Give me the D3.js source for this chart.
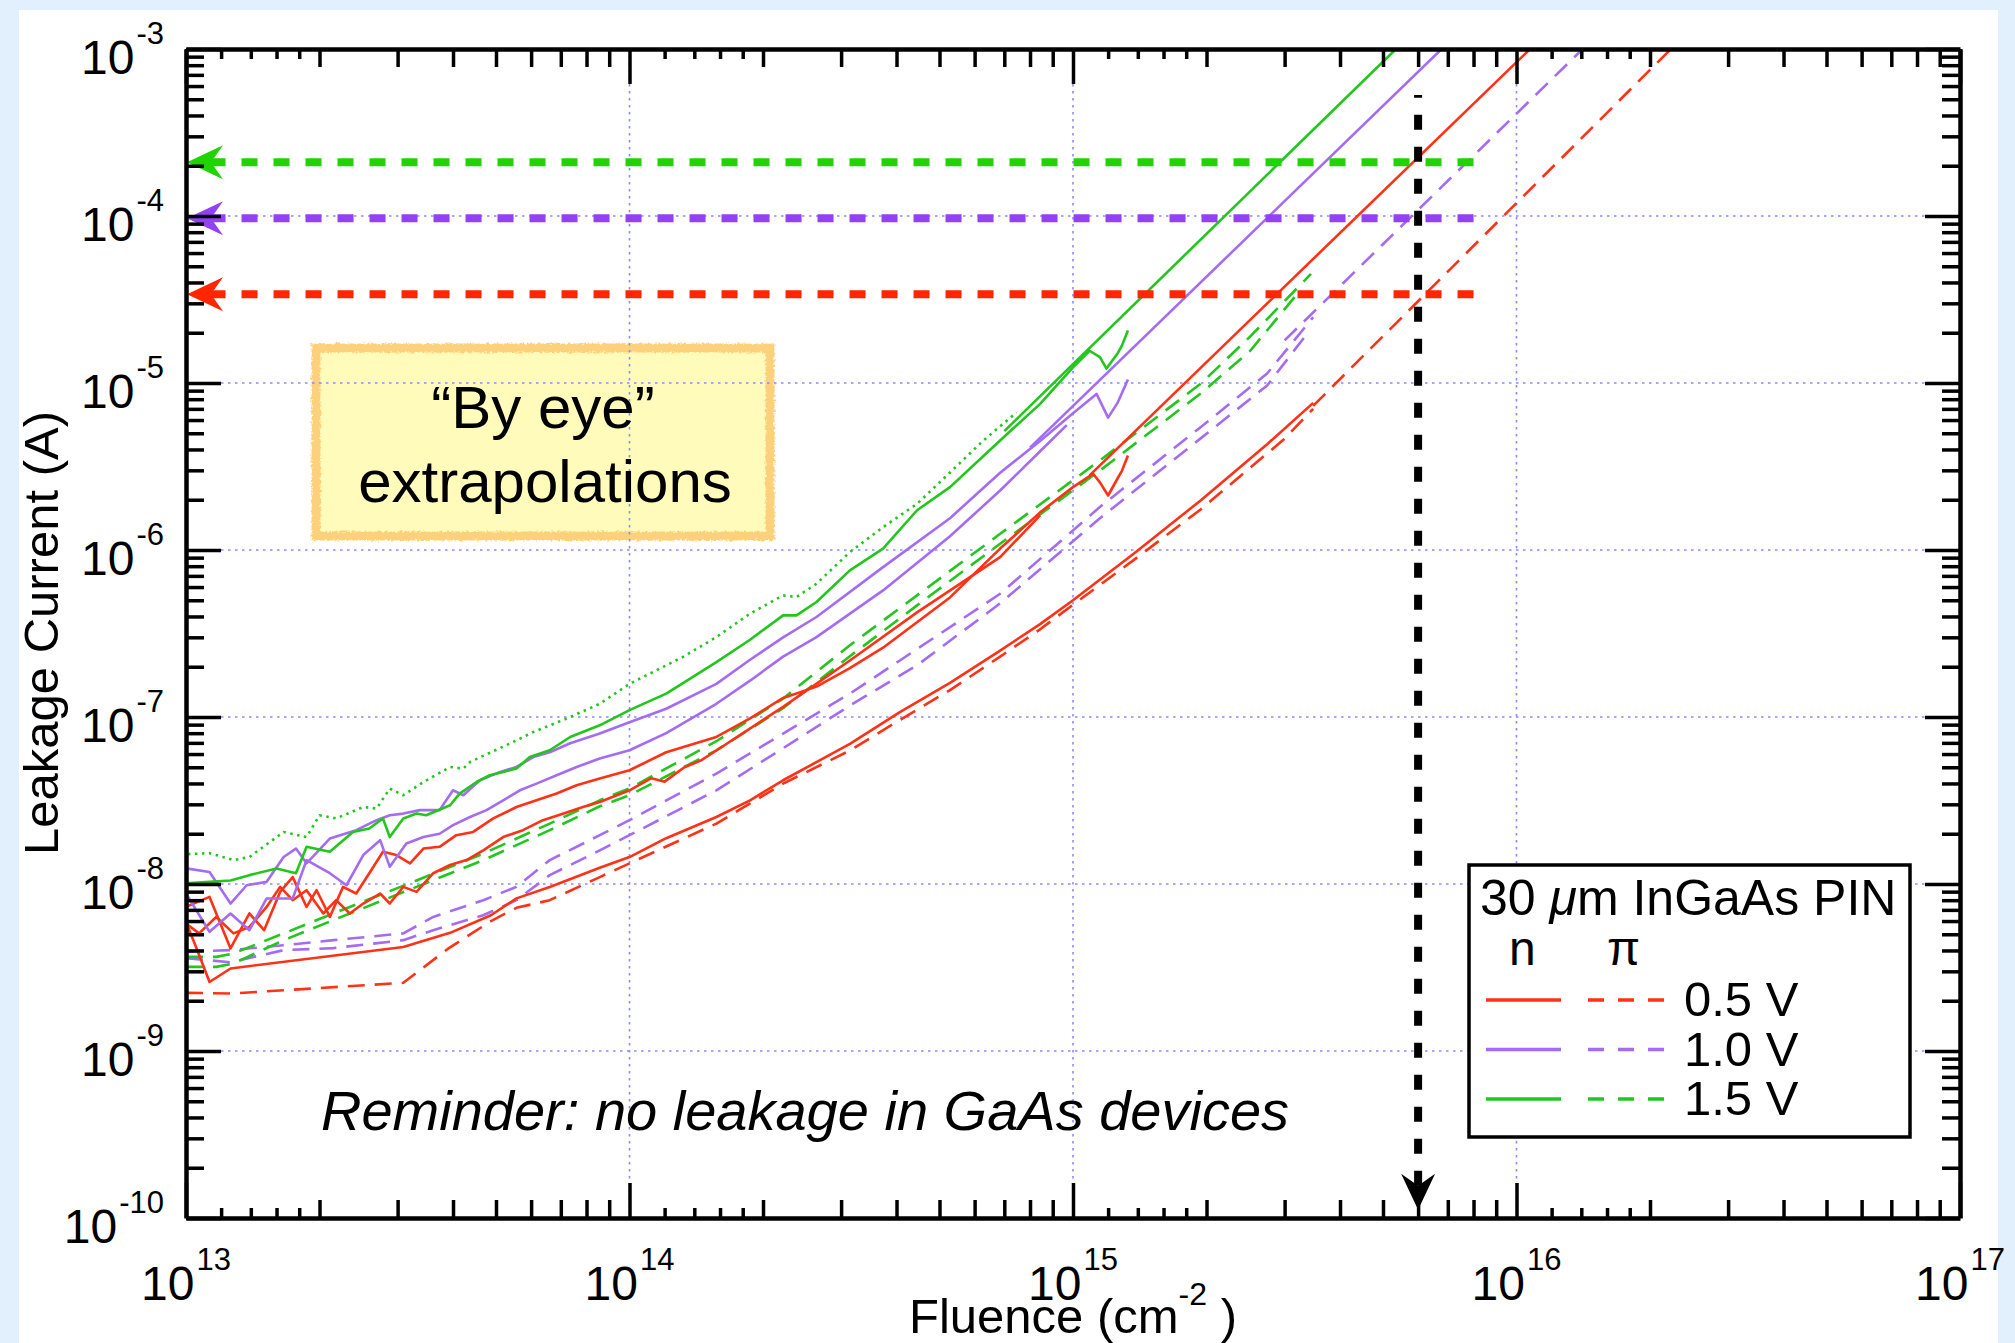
<!DOCTYPE html>
<html lang="en">
<head>
<meta charset="UTF-8">
<title>InGaAs PIN leakage current vs fluence</title>
<script src="https://d3js.org/d3.v7.min.js"></script>
<style>
  html, body { margin: 0; padding: 0; background: #e2effc; }
  svg { display: block; }
  text { font-family: "Liberation Sans", Arial, Helvetica, sans-serif; fill: #000; }
</style>
</head>
<body>
<svg id="chart" width="2015" height="1343"></svg>
<script>
// ---- values: [fluence (cm^-2), leakage current (A)] ----
const greenDotted = [[1.01e13,1.51e-8],[1.13e13,1.53e-8],[1.28e13,1.39e-8],[1.39e13,1.45e-8],[1.66e13,2.05e-8],[1.87e13,1.91e-8],[2.0e13,2.58e-8],[2.18e13,2.47e-8],[2.51e13,2.89e-8],[2.69e13,2.83e-8],[2.88e13,3.73e-8],[3.09e13,3.40e-8],[3.43e13,4.08e-8],[3.94e13,5.02e-8],[4.22e13,4.91e-8],[4.37e13,5.38e-8],[5.37e13,6.93e-8],[6.07e13,8.13e-8],[7.21e13,9.78e-8],[8.57e13,1.2e-7],[1.0e14,1.58e-7],[1.32e14,2.29e-7],[1.57e14,3.01e-7],[1.87e14,4.16e-7],[2.22e14,5.35e-7],[2.38e14,5.23e-7],[2.64e14,6.28e-7],[3.14e14,9.71e-7],[3.73e14,1.37e-6],[4.45e14,1.89e-6],[5.28e14,2.91e-6],[6.28e14,4.53e-6],[7.46e14,6.66e-6]];

const greenSolid = [[1.0e13,1.01e-8],[1.13e13,1.03e-8],[1.26e13,1.05e-8],[1.39e13,1.13e-8],[1.6e13,1.24e-8],[1.77e13,1.16e-8],[1.87e13,1.67e-8],[2.11e13,1.56e-8],[2.38e13,2.05e-8],[2.59e13,2.15e-8],[2.78e13,2.47e-8],[2.88e13,1.91e-8],[3.09e13,2.47e-8],[3.31e13,2.64e-8],[3.48e13,2.58e-8],[3.94e13,2.96e-8],[4.14e13,3.48e-8],[4.52e13,4.08e-8],[4.84e13,4.48e-8],[5.19e13,4.69e-8],[5.56e13,4.91e-8],[5.96e13,5.76e-8],[6.61e13,6.32e-8],[7.35e13,7.59e-8],[8.57e13,8.92e-8],[1.0e14,1.1e-7],[1.21e14,1.38e-7],[1.57e14,2.13e-7],[1.87e14,2.9e-7],[2.22e14,4.06e-7],[2.38e14,4.06e-7],[2.64e14,4.88e-7],[3.14e14,7.55e-7],[3.73e14,1.02e-6],[4.45e14,1.73e-6],[5.28e14,2.38e-6],[6.85e14,4.53e-6],[8.43e14,7.5e-6],[1.0e15,1.24e-5],[1.09e15,1.56e-5],[1.15e15,1.43e-5],[1.19e15,1.22e-5],[1.26e15,1.50e-5],[1.29e15,1.68e-5],[1.33e15,2.06e-5]];

const purpleSolidA = [[1.0e13,1.24e-8],[1.13e13,1.18e-8],[1.26e13,7.64e-9],[1.37e13,9.83e-9],[1.52e13,1.03e-8],[1.66e13,1.45e-8],[1.77e13,1.63e-8],[1.87e13,1.33e-8],[2.11e13,1.87e-8],[2.42e13,2.10e-8],[2.69e13,2.41e-8],[2.88e13,2.58e-8],[3.09e13,2.64e-8],[3.37e13,2.77e-8],[3.73e13,2.77e-8],[4.0e13,3.64e-8],[4.22e13,3.40e-8],[4.6e13,4.18e-8],[5.11e13,4.69e-8],[5.56e13,5.02e-8],[6.07e13,5.76e-8],[6.61e13,6.15e-8],[7.35e13,6.96e-8],[8.57e13,7.96e-8],[1.0e14,9.3e-8],[1.21e14,1.12e-7],[1.57e14,1.58e-7],[1.87e14,2.2e-7],[2.22e14,3.0e-7],[2.64e14,3.97e-7],[3.73e14,7.9e-7],[5.28e14,1.55e-6],[6.85e14,2.9e-6],[8.43e14,4.5e-6],[1.0e15,6.6e-6],[1.13e15,8.6e-6],[1.2e15,6.2e-6],[1.26e15,7.6e-6],[1.33e15,1.05e-5]];

const purpleSolidB = [[1.0e13,8.77e-9],[1.13e13,5.17e-9],[1.26e13,6.66e-9],[1.39e13,5.29e-9],[1.52e13,8.19e-9],[1.74e13,8.19e-9],[1.87e13,1.39e-8],[2.11e13,1.16e-8],[2.3e13,9.83e-9],[2.51e13,1.49e-8],[2.74e13,1.83e-8],[2.88e13,1.27e-8],[3.14e13,1.75e-8],[3.43e13,1.91e-8],[3.73e13,2.0e-8],[4.0e13,2.25e-8],[4.37e13,2.52e-8],[4.76e13,2.77e-8],[5.19e13,3.17e-8],[5.66e13,3.64e-8],[6.17e13,3.99e-8],[6.85e13,4.48e-8],[7.6e13,5.02e-8],[8.57e13,5.64e-8],[1.0e14,6.32e-8],[1.21e14,8.0e-8],[1.57e14,1.2e-7],[1.87e14,1.65e-7],[2.22e14,2.3e-7],[2.64e14,3.01e-7],[3.73e14,5.73e-7],[5.28e14,1.21e-6],[6.85e14,2.27e-6],[8.43e14,3.9e-6],[9.68e14,5.6e-6]];

const redSolidA = [[1.0e13,7.29e-9],[1.13e13,8.37e-9],[1.26e13,4.11e-9],[1.39e13,6.66e-9],[1.5e13,5.29e-9],[1.63e13,8.97e-9],[1.74e13,1.10e-8],[1.87e13,7.29e-9],[1.97e13,9.18e-9],[2.11e13,6.35e-9],[2.26e13,9.61e-9],[2.42e13,8.77e-9],[2.59e13,1.16e-8],[2.78e13,1.56e-8],[2.98e13,1.49e-8],[3.2e13,1.33e-8],[3.43e13,1.63e-8],[3.73e13,1.67e-8],[4.07e13,1.96e-8],[4.44e13,2.05e-8],[4.93e13,2.47e-8],[5.56e13,2.89e-8],[6.17e13,3.17e-8],[6.85e13,3.48e-8],[7.6e13,3.90e-8],[8.57e13,4.28e-8],[1.0e14,4.8e-8],[1.21e14,6.15e-8],[1.57e14,7.6e-8],[1.87e14,9.8e-8],[2.22e14,1.3e-7],[2.64e14,1.52e-7],[3.14e14,1.96e-7],[3.73e14,2.6e-7],[5.28e14,5.2e-7],[6.85e14,1.02e-6],[8.43e14,1.68e-6],[1.0e15,2.38e-6],[1.11e15,2.86e-6],[1.15e15,2.54e-6],[1.2e15,2.12e-6],[1.26e15,2.68e-6],[1.29e15,2.99e-6],[1.33e15,3.68e-6]];

const redSolidB = [[1.0e13,5.8e-9],[1.07e13,5.06e-9],[1.17e13,6.35e-9],[1.28e13,5.06e-9],[1.39e13,5.53e-9],[1.52e13,7.29e-9],[1.63e13,9.61e-9],[1.74e13,8.0e-9],[1.87e13,9.18e-9],[2.04e13,6.66e-9],[2.18e13,8.0e-9],[2.34e13,6.66e-9],[2.51e13,7.64e-9],[2.74e13,8.77e-9],[2.88e13,7.64e-9],[3.09e13,9.61e-9],[3.31e13,8.97e-9],[3.61e13,1.16e-8],[3.94e13,1.30e-8],[4.29e13,1.39e-8],[4.68e13,1.59e-8],[5.19e13,1.91e-8],[5.75e13,2.10e-8],[6.38e13,2.41e-8],[7.1e13,2.64e-8],[7.85e13,2.89e-8],[8.57e13,3.10e-8],[1.0e14,3.64e-8],[1.12e14,4.3e-8],[1.2e14,4.1e-8],[1.33e14,5.0e-8],[1.45e14,5.5e-8],[1.57e14,6.3e-8],[2.22e14,1.15e-7],[3.14e14,2.18e-7],[4.45e14,4.23e-7],[6.85e14,9.07e-7],[8.43e14,1.61e-6]];

const redSolidC = [[1.0e13,5.93e-9],[1.06e13,4.02e-9],[1.13e13,2.59e-9],[1.26e13,3.12e-9],[3.09e13,4.2e-9],[3.94e13,5.1e-9],[4.87e13,6.5e-9],[5.56e13,8.2e-9],[6.61e13,9.6e-9],[8.57e13,1.25e-8],[1.0e14,1.45e-8],[1.21e14,1.88e-8],[1.57e14,2.52e-8],[1.87e14,3.17e-8],[2.22e14,4.18e-8],[3.14e14,6.9e-8],[4.07e14,1.07e-7],[5.28e14,1.6e-7],[6.85e14,2.5e-7],[8.43e14,3.6e-7],[1.0e15,5.0e-7],[1.37e15,9.5e-7],[1.94e15,1.98e-6],[2.74e15,4.3e-6],[3.48e15,7.6e-6]];

const redDashed = [[1.0e13,2.23e-9],[1.27e13,2.21e-9],[3.09e13,2.56e-9],[3.9e13,4.1e-9],[4.87e13,6.0e-9],[5.56e13,7.2e-9],[6.61e13,8.0e-9],[8.57e13,1.1e-8],[1.0e14,1.33e-8],[1.57e14,2.30e-8],[2.22e14,3.99e-8],[3.14e14,6.3e-8],[4.07e14,9.6e-8],[5.28e14,1.45e-7],[6.85e14,2.3e-7],[8.43e14,3.35e-7],[1.0e15,4.7e-7],[1.37e15,8.7e-7],[1.94e15,1.75e-6],[2.99e15,4.6e-6],[3.48e15,7.0e-6]];

const greenDashedA = [[1.0e13,3.66e-9],[1.17e13,3.66e-9],[1.28e13,3.84e-9],[1.66e13,5.06e-9],[2.34e13,7.29e-9],[3.31e13,1.05e-8],[4.68e13,1.52e-8],[6.61e13,2.30e-8],[8.57e13,3.17e-8],[1.0e14,3.74e-8],[1.57e14,7.16e-8],[2.22e14,1.29e-7],[3.14e14,2.69e-7],[4.45e14,5.35e-7],[6.85e14,1.25e-6],[1.15e15,3.44e-6],[1.94e15,9.89e-6],[2.51e15,1.90e-5],[3.44e15,4.5e-5]];

const greenDashedB = [[1.0e13,3.19e-9],[1.17e13,3.19e-9],[1.28e13,3.34e-9],[1.66e13,4.61e-9],[2.34e13,6.66e-9],[3.31e13,9.61e-9],[4.68e13,1.39e-8],[6.61e13,2.10e-8],[8.57e13,2.92e-8],[1.0e14,3.40e-8],[1.57e14,6.32e-8],[2.22e14,1.13e-7],[3.14e14,2.31e-7],[4.45e14,4.66e-7],[6.85e14,1.09e-6],[1.15e15,2.99e-6],[1.94e15,8.65e-6],[2.51e15,1.56e-5],[3.25e15,3.58e-5]];

const purpleDashedA = [[1.0e13,3.92e-9],[1.26e13,4.02e-9],[1.66e13,4.3e-9],[2.15e13,4.61e-9],[3.09e13,5.06e-9],[3.61e13,6.35e-9],[4.68e13,8.0e-9],[5.56e13,9.61e-9],[6.61e13,1.39e-8],[8.57e13,1.96e-8],[1.0e14,2.41e-8],[1.57e14,4.58e-8],[2.22e14,7.96e-8],[3.14e14,1.38e-7],[4.07e14,2.18e-7],[6.85e14,5.47e-7],[1.15e15,1.81e-6],[1.94e15,5.44e-6],[2.74e15,1.14e-5],[3.48e15,2.48e-5]];

const purpleDashedB = [[1.0e13,3.6e-9],[1.26e13,3.4e-9],[1.66e13,4.02e-9],[2.15e13,4.13e-9],[3.09e13,4.61e-9],[3.61e13,5.29e-9],[4.68e13,6.5e-9],[5.56e13,8.0e-9],[6.61e13,1.13e-8],[8.57e13,1.59e-8],[1.0e14,1.96e-8],[1.57e14,3.64e-8],[2.22e14,6.5e-8],[3.14e14,1.17e-7],[4.45e14,2.04e-7],[6.85e14,4.79e-7],[1.15e15,1.55e-6],[1.94e15,4.66e-6],[2.74e15,9.66e-6],[3.37e15,1.97e-5]];

// "by eye" straight extrapolations (start, end)
const greenExtrap = [[7.0e14,5.15e-6],[5.35e15,1e-3]];
const purpleExtrap = [[8.0e14,4.1e-6],[6.78e15,1e-3]];
const redExtrap = [[1.09e15,2.8e-6],[1.073e16,1e-3]];
const purpleDashedExtrap = [[3.0e15,1.8e-5],[1.41e16,1e-3]];
const redDashedExtrap = [[3.48e15,7.3e-6],[2.23e16,1e-3]];

// horizontal target levels and the vertical fluence marker
const targetCurrents = [2.1e-4, 9.7e-5, 3.4e-5];
const targetEndFluence = 8.0e15;
const markerFluence = 6.0e15;
const markerTopCurrent = 5.3e-4;
const markerTipCurrent = 1.12e-10;

const xTickExponents = [13, 14, 15, 16, 17];
const yTickExponents = [-3, -4, -5, -6, -7, -8, -9, -10];
const legendRows = ["0.5 V", "1.0 V", "1.5 V"];

// ---- drawing ----
const RED = "#ff3216", PURPLE = "#a46cf2", GREEN = "#22c61c";
const svg = d3.select("#chart");
const x = d3.scaleLog().domain([1e13, 1e17]).range([186, 1960]);
const y = d3.scaleLog().domain([1e-10, 1e-3]).range([1218, 49]);

svg.append("rect").attr("width", 2015).attr("height", 1343).attr("fill", "#e2effc");
svg.append("rect").attr("x", 19).attr("y", 10).attr("width", 1979).attr("height", 1333).attr("fill", "#fff");

const defs = svg.append("defs");
defs.append("clipPath").attr("id", "plotClip").append("rect")
  .attr("x", 186).attr("y", 49).attr("width", 1774).attr("height", 1169);
const rough = defs.append("filter").attr("id", "rough")
  .attr("x", "-5%").attr("y", "-5%").attr("width", "110%").attr("height", "110%");
rough.append("feTurbulence").attr("type", "fractalNoise").attr("baseFrequency", 0.4)
  .attr("numOctaves", 2).attr("seed", 4).attr("result", "noise");
rough.append("feDisplacementMap").attr("in", "SourceGraphic").attr("in2", "noise").attr("scale", 5);

// note box sits under the grid (grid shows through it)
svg.append("rect").attr("x", 316).attr("y", 348).attr("width", 454).attr("height", 188)
  .attr("fill", "#fffbbb").attr("stroke", "#fdd17c").attr("stroke-width", 9)
  .attr("filter", "url(#rough)");

// grid
const grid = svg.append("g").attr("stroke", "#8a8aff").attr("stroke-width", 1.6)
  .attr("stroke-dasharray", "2.5 4.5");
[1e14, 1e15, 1e16].forEach(v => grid.append("line")
  .attr("x1", x(v)).attr("x2", x(v)).attr("y1", y(1e-3)).attr("y2", y(1e-10)));
[1e-9, 1e-8, 1e-7, 1e-6, 1e-5, 1e-4].forEach(v => grid.append("line")
  .attr("y1", y(v)).attr("y2", y(v)).attr("x1", x(1e13)).attr("x2", x(1e17)));

// data
const line = d3.line().x(d => x(d[0])).y(d => y(d[1]));
const plot = svg.append("g").attr("clip-path", "url(#plotClip)")
  .attr("fill", "none").attr("stroke-width", 2.6).attr("stroke-linejoin", "round");

const series = [
  { d: redDashed, c: RED, dash: "17 10" },
  { d: purpleDashedA, c: PURPLE, dash: "17 10" },
  { d: purpleDashedB, c: PURPLE, dash: "17 10" },
  { d: greenDashedA, c: GREEN, dash: "17 10" },
  { d: greenDashedB, c: GREEN, dash: "17 10" },
  { d: redSolidC, c: RED },
  { d: redSolidB, c: RED },
  { d: redSolidA, c: RED },
  { d: purpleSolidB, c: PURPLE },
  { d: purpleSolidA, c: PURPLE },
  { d: greenDotted, c: GREEN, dash: "2.5 4.5" },
  { d: greenSolid, c: GREEN },
  { d: greenExtrap, c: GREEN },
  { d: purpleExtrap, c: PURPLE },
  { d: redExtrap, c: RED },
  { d: purpleDashedExtrap, c: PURPLE, dash: "17 10" },
  { d: redDashedExtrap, c: RED, dash: "17 10" }
];
series.forEach(s => plot.append("path").attr("d", line(s.d)).attr("stroke", s.c)
  .attr("stroke-dasharray", s.dash || null));

// target arrows
const arrowColors = ["#1fd400", "#9440f7", "#ff2600"];
const head = "M0,0 L-36,-17 L-24,0 L-36,17 Z";
targetCurrents.forEach((v, i) => {
  const yy = y(v);
  svg.append("path").attr("d", `M${x(targetEndFluence)},${yy} L${x(1e13) + 24},${yy}`)
    .attr("stroke", arrowColors[i]).attr("stroke-width", 8).attr("stroke-dasharray", "16 16");
  svg.append("path").attr("d", head).attr("fill", arrowColors[i])
    .attr("transform", `translate(${x(1e13) + 1},${yy}) rotate(180)`);
});
const mx = x(markerFluence);
svg.append("path").attr("d", `M${mx},${y(markerTipCurrent) - 24} L${mx},${y(markerTopCurrent)}`)
  .attr("stroke", "#000").attr("stroke-width", 8).attr("stroke-dasharray", "15 17");
svg.append("path").attr("d", head).attr("fill", "#000")
  .attr("transform", `translate(${mx},${y(markerTipCurrent)}) rotate(90)`);

// axes: ticks inside on all four sides
const decadesX = d3.range(13, 17), decadesY = d3.range(-10, -3);
const xMajor = xTickExponents.map(e => Math.pow(10, e));
const xMinor = decadesX.flatMap(e => d3.range(2, 10).map(m => m * Math.pow(10, e)));
const xSub = decadesX.flatMap(e => [1.2, 1.4, 1.6, 1.8].map(m => m * Math.pow(10, e)));
const yMajor = yTickExponents.map(e => Math.pow(10, e));
const yMinor = decadesY.flatMap(e => d3.range(2, 10).map(m => m * Math.pow(10, e)));

function drawAxis(maker, scale, pos, transform) {
  const g = svg.append("g").attr("transform", transform);
  [[pos.major, 35], [pos.minor, 18], [pos.sub, 10]].forEach(([vals, len], k) => {
    if (!vals) return;
    const a = g.append("g").call(maker(scale).tickValues(vals).tickSize(-len)
      .tickSizeOuter(0).tickFormat(""));
    a.selectAll(".tick line").attr("stroke", "#000").attr("stroke-width", 3.5);
    if (k > 0) a.select(".domain").remove();
    else a.select(".domain").attr("stroke", "#000").attr("stroke-width", 4.5);
  });
}
drawAxis(d3.axisBottom, x, { major: xMajor, minor: xMinor, sub: xSub }, "translate(0,1218)");
drawAxis(d3.axisTop, x, { major: xMajor, minor: xMinor, sub: xSub }, "translate(0,49)");
drawAxis(d3.axisLeft, y, { major: yMajor, minor: yMinor }, "translate(186,0)");
drawAxis(d3.axisRight, y, { major: yMajor, minor: yMinor }, "translate(1960,0)");

// tick labels with superscript exponents
yTickExponents.forEach(e => {
  const t = svg.append("text").attr("x", 164).attr("y", y(Math.pow(10, e)) + 25)
    .attr("text-anchor", "end").attr("font-size", 48);
  t.append("tspan").text("10");
  t.append("tspan").attr("font-size", 31).attr("dx", 2).attr("dy", -30).text(String(e));
});
xTickExponents.forEach(e => {
  const t = svg.append("text").attr("x", x(Math.pow(10, e))).attr("y", 1300)
    .attr("text-anchor", "middle").attr("font-size", 48);
  t.append("tspan").text("10");
  t.append("tspan").attr("font-size", 31).attr("dx", 2).attr("dy", -30).text(String(e));
});

// axis titles (the fluence title touches the 10^15 label, as in the original slide)
const xt = svg.append("text").attr("x", 1073).attr("y", 1333)
  .attr("text-anchor", "middle").attr("font-size", 49);
xt.append("tspan").text("Fluence (cm");
xt.append("tspan").attr("font-size", 32).attr("dy", -28).text("-2");
xt.append("tspan").attr("dy", 28).text(" )");
svg.append("text").attr("transform", "translate(58,633) rotate(-90)")
  .attr("text-anchor", "middle").attr("font-size", 49).text("Leakage Current (A)");

// annotations
svg.append("text").attr("x", 543).attr("y", 428).attr("text-anchor", "middle")
  .attr("font-size", 60).text("\u201CBy eye\u201D");
svg.append("text").attr("x", 545).attr("y", 502).attr("text-anchor", "middle")
  .attr("font-size", 60).text("extrapolations");
svg.append("text").attr("x", 321).attr("y", 1130).attr("font-size", 56)
  .attr("font-style", "italic").text("Reminder: no leakage in GaAs devices");

// legend
const lg = svg.append("g");
lg.append("rect").attr("x", 1469).attr("y", 865).attr("width", 441).attr("height", 272)
  .attr("fill", "#fff").attr("stroke", "#000").attr("stroke-width", 3.5);
const lt = lg.append("text").attr("x", 1480).attr("y", 915).attr("font-size", 50);
lt.append("tspan").text("30 ");
lt.append("tspan").attr("font-style", "italic").text("\u03BC");
lt.append("tspan").text("m InGaAs PIN");
lg.append("text").attr("x", 1509).attr("y", 965).attr("font-size", 48).text("n");
lg.append("text").attr("x", 1607).attr("y", 965).attr("font-size", 48).text("\u03C0");
[RED, PURPLE, GREEN].forEach((c, i) => {
  const ly = 1000 + i * 49.5;
  lg.append("line").attr("x1", 1486).attr("x2", 1561).attr("y1", ly).attr("y2", ly)
    .attr("stroke", c).attr("stroke-width", 3.5);
  lg.append("line").attr("x1", 1588).attr("x2", 1664).attr("y1", ly).attr("y2", ly)
    .attr("stroke", c).attr("stroke-width", 3.5).attr("stroke-dasharray", "16 14");
  lg.append("text").attr("x", 1684).attr("y", ly + 16).attr("font-size", 49).text(legendRows[i]);
});
</script>
</body>
</html>
